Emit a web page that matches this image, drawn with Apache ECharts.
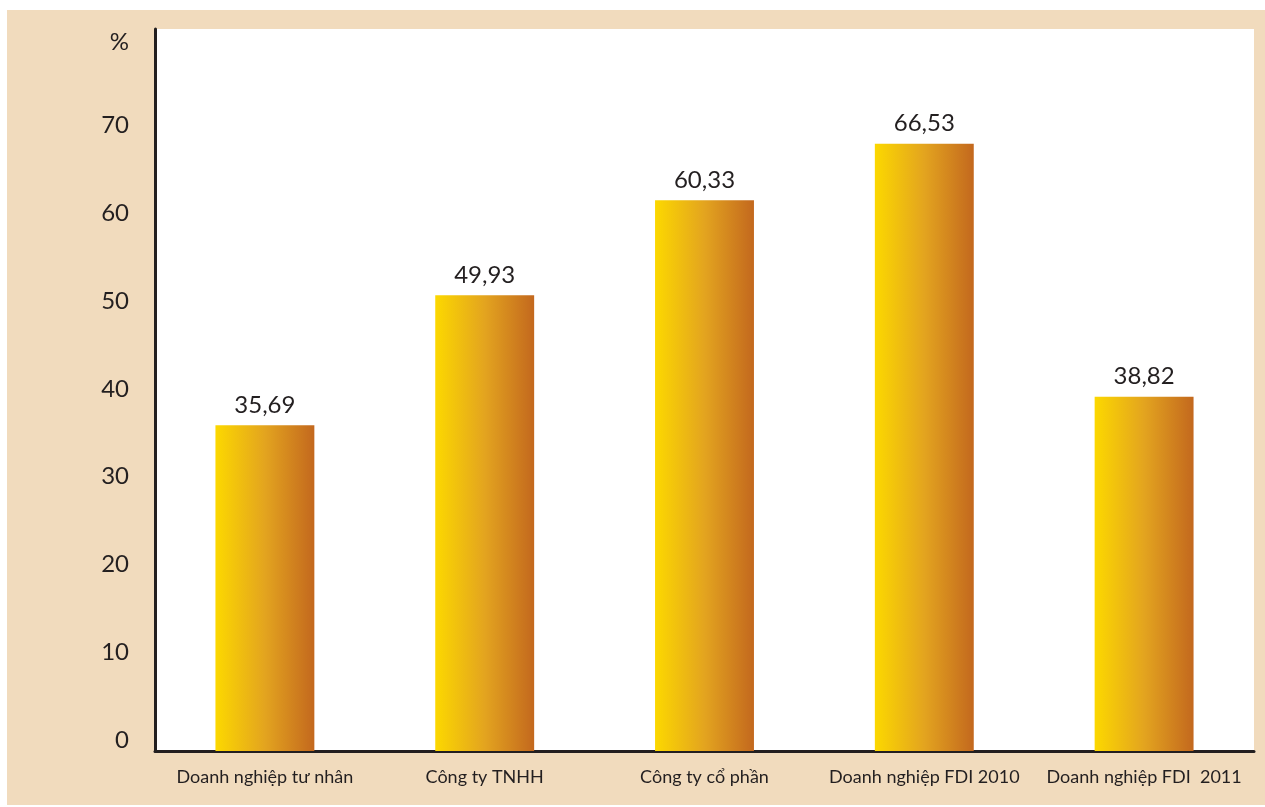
<!DOCTYPE html>
<html>
<head>
<meta charset="utf-8">
<script src="https://cdn.jsdelivr.net/npm/echarts@6/dist/echarts.min.js"></script>
<style>
html, body { margin: 0; padding: 0; background: #ffffff; }
#chart { position: absolute; left: 7px; top: 10px; width: 1258px; height: 795px; }
</style>
</head>
<body>
<div id="chart"></div>
<script>
var categories = ['Doanh nghiệp tư nhân', 'Công ty TNHH', 'Công ty cổ phần', 'Doanh nghiệp FDI 2010', 'Doanh nghiệp FDI  2011'];
var values = [35.69, 49.93, 60.33, 66.53, 38.82];
var tickValues = [0, 10, 20, 30, 40, 50, 60, 70, 79.5];
var tickLabels = ['0', '10', '20', '30', '40', '50', '60', '70', '%'];

var myChart = echarts.init(document.getElementById('chart'));

var barColor = {
	type : 'linear', x : 0, y : 0, x2 : 1, y2 : 0,
	colorStops : [
		{ offset : 0, color : '#fcd800' },
		{ offset : 0.5, color : '#e3a41f' },
		{ offset : 1, color : '#c3681e' }
	]
};

var option = {
	backgroundColor : '#f1dbbd',
	animation : false,
	textStyle : { fontFamily : 'Lato' },
	grid : {
		left : 148, right : 11, top : 19, bottom : 54,
		show : true,
		backgroundColor : '#ffffff',
		borderWidth : 0
	},
	xAxis : {
		type : 'category',
		data : categories,
		axisLine : { lineStyle : { color : '#231f20', width : 3 } },
		axisTick : { show : false },
		axisLabel : {
			interval : 0,
			margin : 17,
			color : '#231f20',
			fontSize : 18,
			fontFamily : 'Lato'
		}
	},
	yAxis : [ {
		type : 'value',
		min : 0,
		max : 79.1,
		axisLine : { show : true, lineStyle : { color : '#231f20', width : 3 } },
		axisTick : { show : false },
		axisLabel : { show : false },
		splitLine : { show : false }
	}, {
		// label axis, the printed numbers sit a little off the real ticks
		type : 'value',
		position : 'left',
		min : -1.25,
		max : 81,
		axisLine : { show : false },
		axisTick : { show : false },
		splitLine : { show : false },
		axisLabel : {
			customValues : tickValues,
			margin : 26,
			color : '#231f20',
			fontSize : 24,
			fontFamily : 'Lato',
			formatter : function(v) {
				var i = tickValues.indexOf(v);
				return i >= 0 ? tickLabels[i] : '';
			}
		}
	} ],
	series : [ {
		type : 'bar',
		yAxisIndex : 0,
		data : values,
		barWidth : '45%',
		itemStyle : { color : barColor },
		label : {
			show : true,
			position : 'top',
			distance : 8,
			color : '#231f20',
			fontSize : 24,
			fontFamily : 'Lato',
			formatter : function(p) {
				return p.value.toFixed(2).replace('.', ',');
			}
		}
	} ]
};
myChart.setOption(option);
</script>
</body>
</html>
